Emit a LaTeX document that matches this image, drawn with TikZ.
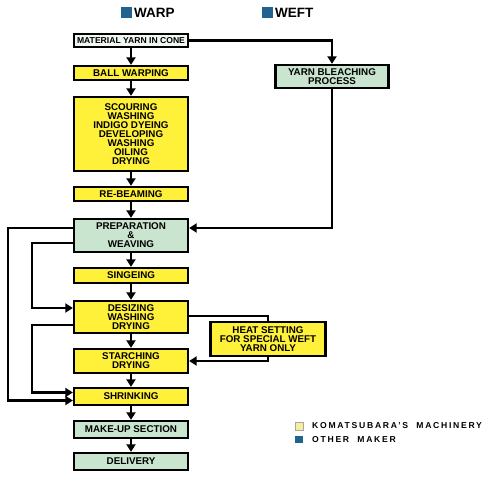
\documentclass[tikz,border=0pt]{standalone}
\usepackage{fontspec}
\setmainfont{Liberation Sans}
\usetikzlibrary{arrows.meta}
\definecolor{boxyellow}{HTML}{FFF03A}
\definecolor{boxgreen}{HTML}{C9E5CF}
\definecolor{boxwhite}{HTML}{F1F7F1}
\definecolor{hdrblue}{HTML}{22628F}
\definecolor{legyellow}{HTML}{F6EE9C}
\begin{document}
\begin{tikzpicture}[x=1pt,y=-1pt,
  box/.style={draw=black,line width=2.3pt,minimum width=114pt,inner sep=0pt,align=center,
    font=\fontsize{9.8}{9}\bfseries\selectfont},
  ybox/.style={box,fill=boxyellow},
  gbox/.style={box,fill=boxgreen},
  wbox/.style={box,fill=boxwhite},
  conn/.style={line width=2.6pt},
  arr/.style={conn,-{Triangle[width=9pt,length=7.5pt]}},
  hdr/.style={font=\fontsize{13.5}{14}\bfseries\selectfont,anchor=base west,inner sep=0pt},
  leg/.style={font=\fontsize{8.6}{9}\bfseries\addfontfeature{LetterSpace=20}\selectfont,anchor=west,inner sep=0pt}]
\useasboundingbox[fill=white] (0,0) rectangle (500,478);
% header
\fill[hdrblue] (121,7) rectangle (132,18);
\node[hdr] (warp) at (134,17.5) {WARP};
\fill[hdrblue] (262,7) rectangle (273,18);
\node[hdr] (weftlbl) at (275,17.5) {WEFT};
% left column
\node[wbox,minimum height=13pt,font=\fontsize{8.6}{9}\bfseries\selectfont] (mat) at (131,40.5) {MATERIAL YARN IN CONE};
\node[ybox,minimum height=14pt] (ball) at (131,73) {BALL WARPING};
\node[ybox,minimum height=74pt] (scour) at (131,134) {SCOURING\\WASHING\\INDIGO DYEING\\DEVELOPING\\WASHING\\OILING\\DRYING};
\node[ybox,minimum height=14pt] (rebeam) at (131,194) {RE-BEAMING};
\node[gbox,minimum height=33pt] (prep) at (131,235.5) {PREPARATION\\\&\\WEAVING};
\node[ybox,minimum height=15pt] (sing) at (131,275.5) {SINGEING};
\node[ybox,minimum height=32pt] (desize) at (131,317) {DESIZING\\WASHING\\DRYING};
\node[ybox,minimum height=24pt] (starch) at (131,361) {STARCHING\\DRYING};
\node[ybox,minimum height=17pt] (shrink) at (131,396.5) {SHRINKING};
\node[gbox,minimum height=17pt] (makeup) at (131,429.5) {MAKE-UP SECTION};
\node[gbox,minimum height=17pt] (deliv) at (131,461.5) {DELIVERY};
% right column
\node[gbox,minimum width=113pt,minimum height=23pt] (weft) at (332,76.5) {YARN BLEACHING\\PROCESS};
\node[ybox,minimum width=115pt,minimum height=34pt] (heat) at (268,339) {HEAT SETTING\\FOR SPECIAL WEFT\\YARN ONLY};
% main flow
\draw[arr] (mat) -- (ball);
\draw[arr] (ball) -- (scour);
\draw[arr] (scour) -- (rebeam);
\draw[arr] (rebeam) -- (prep);
\draw[arr] (prep) -- (sing);
\draw[arr] (sing) -- (desize);
\draw[arr] (desize) -- (starch);
\draw[arr] (starch) -- (shrink);
\draw[arr] (shrink) -- (makeup);
\draw[arr] (makeup) -- (deliv);
% weft path
\draw[arr] (mat.east) -| (weft.north);
\draw[arr] (weft.south) |- ([yshift=7.5pt]prep.east);
% left loops
\draw[arr] ([yshift=7.5pt]prep.west) -- ++(-65,0) |- ([yshift=-4pt]shrink.west);
\draw[arr] ([yshift=-7.5pt]prep.west) -- ++(-41,0) |- ([yshift=9pt]desize.west);
\draw[arr] ([yshift=-8pt]desize.west) -- ++(-41,0) |- ([yshift=4pt]shrink.west);
% heat setting loop
\draw[conn] ([yshift=1pt]desize.east) -| (heat.north);
\draw[arr] (heat.south) |- (starch.east);
% legend
\fill[legyellow,draw=black!35,line width=0.6pt] (295,422) rectangle (303,430);
\node[leg] (leg1) at (312,426) {KOMATSUBARA'S~~MACHINERY};
\fill[hdrblue] (295,436) rectangle (303,443);
\node[leg] (leg2) at (312,439.5) {OTHER~~MAKER};
\end{tikzpicture}
\end{document}
